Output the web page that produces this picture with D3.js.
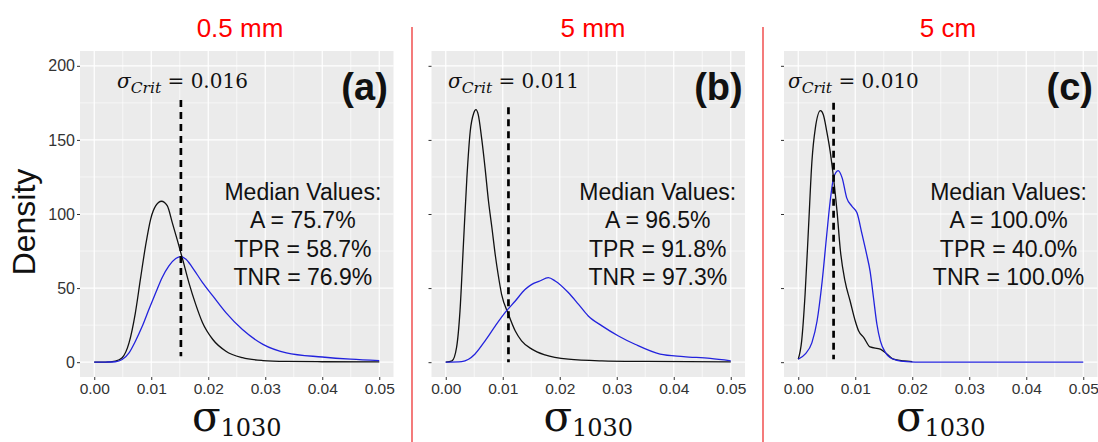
<!DOCTYPE html>
<html>
<head>
<meta charset="utf-8">
<script src="https://cdn.jsdelivr.net/npm/d3@7"></script>
<style>
  body { margin: 0; background: #fff; }
  svg { display: block; }
</style>
</head>
<body>
<div id="chart"></div>
<script>
// panel titles / labels
const titles = ["0.5 mm", "5 mm", "5 cm"];
const panelTags = ["(a)", "(b)", "(c)"];
const critText = ["0.016", "0.011", "0.010"];
const critX = [0.0152, 0.011, 0.0062];
const critTop = [177, 172, 175];
const critBottom = [4, 0, 2];
const accA = ["75.7%", "96.5%", "100.0%"];
const accTPR = ["58.7%", "91.8%", "40.0%"];
const accTNR = ["76.9%", "97.3%", "100.0%"];

const xTicks = [0, 0.01, 0.02, 0.03, 0.04, 0.05];
const yTicks = [0, 50, 100, 150, 200];

// density curves: [sigma, density]
const aBlack = [[0,0],[0.002,0],[0.0037,0.7],[0.0049,3],[0.0061,13],[0.0072,33],[0.0081,56],[0.009,78.5],[0.0099,96.6],[0.0108,105.6],[0.0118,108.6],[0.0128,105.6],[0.0137,94],[0.0146,82],[0.0155,69.5],[0.0166,53.7],[0.0178,39],[0.019,26.6],[0.0208,15.3],[0.0231,7.4],[0.026,3],[0.0296,1.1],[0.0337,0.5],[0.04,0.3],[0.05,0.2]];
const aBlue = [[0,0],[0.002,0.1],[0.0037,0.3],[0.0049,1.8],[0.0061,6.3],[0.0072,14],[0.0084,24],[0.0096,35.7],[0.0108,47],[0.0119,57],[0.0131,65],[0.0143,70],[0.0152,71.3],[0.0161,69.5],[0.0172,64],[0.019,53.7],[0.0208,44.7],[0.0231,33.4],[0.026,22],[0.0296,12],[0.0337,6.3],[0.04,3.5],[0.045,2],[0.05,1]];
const bBlack = [[0,0],[0.0011,0.9],[0.0019,10],[0.0025,34.6],[0.0031,79.5],[0.0037,124],[0.0043,156],[0.0049,168],[0.0053,170.4],[0.0057,167],[0.0063,151],[0.0069,131],[0.0075,108.6],[0.0081,90.7],[0.0087,72],[0.0092,59],[0.0098,45.8],[0.011,32.3],[0.0122,21],[0.0133,14.4],[0.0151,8.8],[0.0174,4.9],[0.0215,2],[0.0274,0.9],[0.035,0.5],[0.05,0.2]];
const bBlue = [[0,0],[0.0028,0.4],[0.004,2],[0.0051,5.4],[0.0069,14.4],[0.0087,24.5],[0.0104,33.4],[0.0122,41.3],[0.0139,49],[0.0151,52.5],[0.0165,54.8],[0.018,57],[0.0192,54.8],[0.0215,47],[0.0233,39],[0.025,31.2],[0.0274,24.5],[0.0303,17.7],[0.0332,12.1],[0.0376,5.5],[0.0417,3.8],[0.0464,2.5],[0.05,0.9]];
const cBlack = [[0,2],[0.0006,14.4],[0.0012,45.8],[0.0018,90.7],[0.0024,135.6],[0.003,158],[0.0039,169.7],[0.0044,167],[0.005,155.8],[0.0056,142.3],[0.0062,124],[0.0068,101.9],[0.0074,75],[0.0082,54.8],[0.0091,41.3],[0.01,27.8],[0.0106,21],[0.0115,16.6],[0.0126,10.3],[0.0144,8.8],[0.0156,5.4],[0.0167,2],[0.0185,0.9],[0.02,0.4]];
const cBlue = [[0,2],[0.0012,5.4],[0.0024,13.2],[0.0033,27.8],[0.0042,54.8],[0.005,86.2],[0.0056,108.6],[0.0062,124.4],[0.007,129.3],[0.0077,124.4],[0.0085,110.9],[0.0094,105.3],[0.0103,100.8],[0.0112,86.2],[0.012,72.7],[0.0126,61.5],[0.0132,43.5],[0.0138,25.6],[0.0144,14.4],[0.0153,6.5],[0.0161,3.1],[0.0173,1.3],[0.019,0.4],[0.022,0],[0.05,0]];

const blackSeries = [aBlack, bBlack, cBlack];
const blueSeries = [aBlue, bBlue, cBlue];

const W = 1098, H = 442;
const panelLeft = [80, 431.5, 784];
const panelW = 313.5;
const panelTop = 51, panelBottom = 377;

const svg = d3.select("#chart").append("svg")
  .attr("width", W).attr("height", H);

const sans = "'Liberation Sans', Arial, sans-serif";
const serif = "'DejaVu Serif', serif";

const y = d3.scaleLinear().domain([-10, 210]).range([panelBottom, panelTop]);

// red separators
[412, 763].forEach(sx => {
  svg.append("line")
    .attr("x1", sx).attr("x2", sx)
    .attr("y1", 27).attr("y2", H)
    .attr("stroke", "#ee3333").attr("stroke-width", 1.3);
});

// y label
svg.append("text")
  .attr("transform", "translate(35,222) rotate(-90)")
  .attr("text-anchor", "middle")
  .style("font-family", sans).style("font-size", "32px")
  .attr("fill", "#111")
  .text("Density");

titles.forEach((t, i) => {
  const x = d3.scaleLinear().domain([-0.0025, 0.0525])
    .range([panelLeft[i], panelLeft[i] + panelW]);
  const g = svg.append("g");

  g.append("rect")
    .attr("x", panelLeft[i]).attr("y", panelTop)
    .attr("width", panelW).attr("height", panelBottom - panelTop)
    .attr("fill", "#ebebeb");

  // minor grid
  const xMinor = d3.range(0.005, 0.05, 0.01);
  const yMinor = [25, 75, 125, 175];
  g.selectAll(".xmin").data(xMinor).enter().append("line")
    .attr("x1", d => x(d)).attr("x2", d => x(d))
    .attr("y1", panelTop).attr("y2", panelBottom)
    .attr("stroke", "#fff").attr("stroke-width", 0.6);
  g.selectAll(".ymin").data(yMinor).enter().append("line")
    .attr("x1", panelLeft[i]).attr("x2", panelLeft[i] + panelW)
    .attr("y1", d => y(d)).attr("y2", d => y(d))
    .attr("stroke", "#fff").attr("stroke-width", 0.6);
  // major grid
  g.selectAll(".xmaj").data(xTicks).enter().append("line")
    .attr("x1", d => x(d)).attr("x2", d => x(d))
    .attr("y1", panelTop).attr("y2", panelBottom)
    .attr("stroke", "#fff").attr("stroke-width", 1.2);
  g.selectAll(".ymaj").data(yTicks).enter().append("line")
    .attr("x1", panelLeft[i]).attr("x2", panelLeft[i] + panelW)
    .attr("y1", d => y(d)).attr("y2", d => y(d))
    .attr("stroke", "#fff").attr("stroke-width", 1.2);

  // axes
  const xAxis = g.append("g")
    .attr("transform", "translate(0," + panelBottom + ")")
    .call(d3.axisBottom(x).tickValues(xTicks).tickFormat(d3.format(".2f")).tickSize(3).tickPadding(3));
  xAxis.select(".domain").remove();
  xAxis.selectAll("line").attr("stroke", "#333");
  xAxis.selectAll("text").style("font-family", sans).style("font-size", "15.5px").attr("fill", "#333");

  const yAxis = g.append("g")
    .attr("transform", "translate(" + panelLeft[i] + ",0)")
    .call(d3.axisLeft(y).tickValues(yTicks).tickFormat(i === 0 ? d3.format("d") : () => "").tickSize(3).tickPadding(2));
  yAxis.select(".domain").remove();
  yAxis.selectAll("line").attr("stroke", "#333");
  yAxis.selectAll("text").style("font-family", sans).style("font-size", "16px").attr("fill", "#333");

  // curves
  const line = d3.line().x(d => x(d[0])).y(d => y(d[1])).curve(d3.curveMonotoneX);
  g.append("path").datum(blackSeries[i])
    .attr("d", line).attr("fill", "none")
    .attr("stroke", "#111").attr("stroke-width", 1.3);
  g.append("path").datum(blueSeries[i])
    .attr("d", line).attr("fill", "none")
    .attr("stroke", "#2222dd").attr("stroke-width", 1.3);

  // critical sigma
  g.append("line")
    .attr("x1", x(critX[i])).attr("x2", x(critX[i]))
    .attr("y1", y(critTop[i])).attr("y2", y(critBottom[i]))
    .attr("stroke", "#000").attr("stroke-width", 2.7)
    .attr("stroke-dasharray", "7,5");

  const crit = g.append("text")
    .attr("x", x([0.004, 0.0004, -0.0018][i])).attr("y", y(185))
    .style("font-family", serif).style("font-size", "20px").attr("fill", "#111");
  crit.append("tspan").style("font-style", "italic").text("σ");
  crit.append("tspan").style("font-style", "italic").style("font-size", "15.5px").attr("dy", 5).text("Crit");
  crit.append("tspan").attr("dy", -5).text(" = " + critText[i]);

  // panel tag
  g.append("text")
    .attr("x", x([0.0515, 0.0521, 0.0517][i])).attr("y", y(177))
    .attr("text-anchor", "end")
    .style("font-family", sans).style("font-size", "38px").style("font-weight", "bold")
    .attr("fill", "#111")
    .text(panelTags[i]);

  // medians
  const mx = x([0.0366, 0.0372, 0.0369][i]);
  const lines = ["Median Values:", "A = " + accA[i], "TPR = " + accTPR[i], "TNR = " + accTNR[i]];
  const my = [109.5, 90.4, 71.3, 52.2];
  g.selectAll(".med").data(lines).enter().append("text")
    .attr("x", mx).attr("y", (d, k) => y(my[k]))
    .attr("text-anchor", "middle")
    .style("font-family", sans).style("font-size", "23px")
    .attr("fill", "#111")
    .text(d => d);

  // title
  svg.append("text")
    .attr("x", [240, 593, 948][i]).attr("y", 37)
    .attr("text-anchor", "middle")
    .style("font-family", sans).style("font-size", "26px")
    .attr("fill", "#ff0000")
    .text(t);

  // x label
  const xl = svg.append("text")
    .attr("x", panelLeft[i] + panelW / 2).attr("y", 431)
    .attr("text-anchor", "middle")
    .style("font-family", serif).style("font-size", "42px")
    .attr("fill", "#111");
  xl.append("tspan").text("σ");
  xl.append("tspan").style("font-size", "24px").attr("dy", 5).text("1030");
});
</script>
</body>
</html>
